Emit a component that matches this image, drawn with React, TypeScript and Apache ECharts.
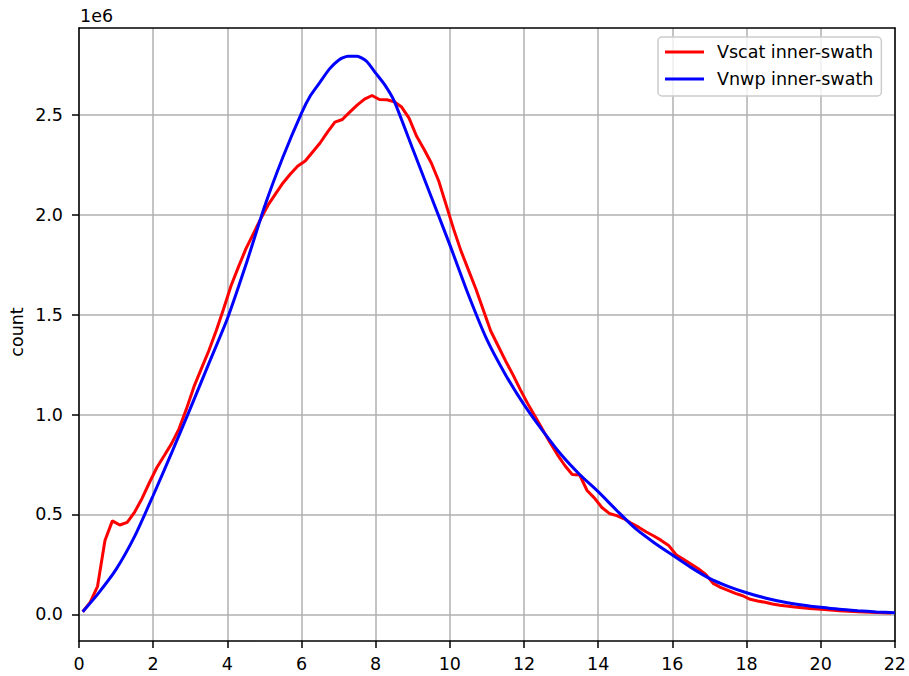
import { useEffect, useRef } from "react";
import * as echarts from "echarts";

const seriesNames = ["Vscat inner-swath", "Vnwp inner-swath"];

const vscatX = [
  0.1, 0.3, 0.5, 0.7, 0.9, 1.1, 1.3, 1.5, 1.7, 1.9,
  2.1, 2.3, 2.5, 2.7, 2.9, 3.1, 3.3, 3.5, 3.7, 3.9,
  4.1, 4.3, 4.5, 4.7, 4.9, 5.1, 5.3, 5.5, 5.7, 5.9,
  6.1, 6.3, 6.5, 6.7, 6.9, 7.1, 7.3, 7.5, 7.7, 7.9,
  8.1, 8.3, 8.5, 8.7, 8.9, 9.1, 9.3, 9.5, 9.7, 9.9,
  10.1, 10.3, 10.5, 10.7, 10.9, 11.1, 11.3, 11.5, 11.7, 11.9,
  12.1, 12.3, 12.5, 12.7, 12.9, 13.1, 13.3, 13.5, 13.7, 13.9,
  14.1, 14.3, 14.5, 14.7, 14.9, 15.1, 15.3, 15.5, 15.7, 15.9,
  16.1, 16.3, 16.5, 16.7, 16.9, 17.1, 17.3, 17.5, 17.7, 17.9,
  18.1, 18.3, 18.5, 18.7, 18.9, 19.3, 19.7, 20.1, 20.5, 21.0, 21.5, 21.9,
];
const vscatY = [
  13000, 60000, 140000, 370000, 468000, 447000, 460000, 512000, 580000, 660000,
  735000, 795000, 856000, 930000, 1030000, 1140000, 1230000, 1320000, 1420000, 1530000,
  1645000, 1740000, 1830000, 1905000, 1980000, 2050000, 2105000, 2160000, 2205000, 2245000,
  2270000, 2315000, 2360000, 2415000, 2465000, 2478000, 2515000, 2550000, 2580000, 2598000,
  2578000, 2577000, 2567000, 2540000, 2485000, 2395000, 2330000, 2260000, 2170000, 2050000,
  1930000, 1820000, 1725000, 1630000, 1525000, 1420000, 1345000, 1270000, 1200000, 1125000,
  1055000, 990000, 925000, 860000, 800000, 745000, 700000, 698000, 620000, 582000,
  535000, 505000, 494000, 478000, 455000, 435000, 412000, 392000, 370000, 345000,
  298000, 275000, 252000, 228000, 200000, 155000, 135000, 120000, 105000, 93000,
  75000, 67000, 60000, 52000, 45000, 36000, 29000, 24000, 18000, 13000, 9000, 6000,
];

const vnwpX = [
  0.1, 0.5, 1.0, 1.5, 2.0, 2.5, 3.0, 3.5, 4.0, 4.5, 5.0, 5.5, 6.0,
  6.25, 6.5, 6.75, 7.0, 7.25, 7.5, 7.75, 8.0, 8.25, 8.5,
  9.0, 9.5, 10.0, 10.5, 11.0, 11.5, 12.0, 12.5, 13.0, 13.5, 14.0, 14.5,
  15.0, 15.5, 16.0, 16.5, 17.0, 17.5, 18.0, 18.5, 19.0, 19.5, 20.0, 20.5,
  21.0, 21.5, 22.0,
];
const vnwpY = [
  13000, 100000, 225000, 390000, 595000, 810000, 1030000, 1255000, 1480000, 1750000, 2040000, 2290000, 2510000,
  2600000, 2665000, 2730000, 2775000, 2795000, 2795000, 2770000, 2710000, 2650000, 2570000,
  2330000, 2090000, 1850000, 1600000, 1375000, 1200000, 1050000, 920000, 800000, 700000, 614000, 520000,
  430000, 360000, 297000, 235000, 180000, 140000, 108000, 82000, 62000, 47000, 35000, 25000,
  18000, 12000, 8000,
];

const yTickValues = [0, 500000, 1000000, 1500000, 2000000, 2500000];
const yMin = -133700;
const yMax = 2936000;

const FONT = "DejaVu Sans";
const FS = 17.5;

export default function App() {
  const ref = useRef<HTMLDivElement>(null);
  useEffect(() => {
    if (!ref.current) return;
    const chart = echarts.init(ref.current, undefined, { renderer: "svg" });
    const axisLineStyle = { color: "#000", width: 1.5 };
    const gridLine = { show: true, lineStyle: { color: "#b0b0b0", width: 1.5 } };
    const option: any = {
      animation: false,
      backgroundColor: "#ffffff",
      grid: { left: 79, right: 13, top: 28, bottom: 35, containLabel: false },
      xAxis: [
        {
          type: "value",
          min: 0,
          max: 22,
          interval: 2,
          axisLine: { show: true, onZero: false, lineStyle: axisLineStyle },
          axisTick: { show: true, length: 7, lineStyle: axisLineStyle },
          axisLabel: { color: "#000", fontSize: FS, fontFamily: FONT, margin: 14 },
          splitLine: gridLine,
        },
        {
          type: "value",
          position: "top",
          min: 0,
          max: 22,
          axisLine: { show: true, onZero: false, lineStyle: axisLineStyle },
          axisTick: { show: false },
          axisLabel: { show: false },
          splitLine: { show: false },
        },
      ],
      yAxis: [
        {
          type: "value",
          min: yMin,
          max: yMax,
          splitNumber: 5,
          axisLine: { show: true, onZero: false, lineStyle: axisLineStyle },
          axisTick: { show: true, length: 7, lineStyle: axisLineStyle, customValues: yTickValues },
          axisLabel: {
            color: "#000",
            fontSize: FS,
            fontFamily: FONT,
            margin: 16,
            customValues: yTickValues,
            formatter: (v: number) => (v / 1e6).toFixed(1),
          },
          splitLine: gridLine,
        },
        {
          type: "value",
          position: "right",
          min: yMin,
          max: yMax,
          axisLine: { show: true, onZero: false, lineStyle: axisLineStyle },
          axisTick: { show: false },
          axisLabel: { show: false },
          splitLine: { show: false },
        },
      ],
      legend: {
        orient: "vertical",
        left: 658,
        top: 37,
        padding: [5, 8, 7, 7],
        itemWidth: 39,
        itemHeight: 3,
        itemGap: 7,
        icon: "rect",
        backgroundColor: "rgba(255,255,255,0.8)",
        borderColor: "#cccccc",
        borderWidth: 1.5,
        borderRadius: 4,
        textStyle: { color: "#000", fontSize: FS, fontFamily: FONT, lineHeight: 20, padding: [0, 0, 0, 8] },
        data: seriesNames,
      },
      graphic: [
        {
          type: "text",
          left: 80,
          top: 7,
          style: { text: "1e6", font: `${FS}px "${FONT}"`, fill: "#000" },
        },
        {
          type: "text",
          x: 17,
          y: 332,
          rotation: Math.PI / 2,
          style: { text: "count", font: `${FS}px "${FONT}"`, fill: "#000", align: "center", verticalAlign: "middle" },
        },
      ],
      series: [
        {
          name: seriesNames[0],
          type: "line",
          symbol: "none",
          data: vscatX.map((x, i) => [x, vscatY[i]]),
          lineStyle: { color: "#ff0000", width: 3 },
          itemStyle: { color: "#ff0000" },
          z: 3,
        },
        {
          name: seriesNames[1],
          type: "line",
          symbol: "none",
          smooth: 0.2,
          data: vnwpX.map((x, i) => [x, vnwpY[i]]),
          lineStyle: { color: "#0000ff", width: 3 },
          itemStyle: { color: "#0000ff" },
          z: 3,
        },
      ],
    };
    chart.setOption(option);
    return () => chart.dispose();
  }, []);
  return (
    <div
      ref={ref}
      style={{ position: "fixed", left: 0, top: 0, width: 909, height: 676, background: "#fff" }}
    />
  );
}
